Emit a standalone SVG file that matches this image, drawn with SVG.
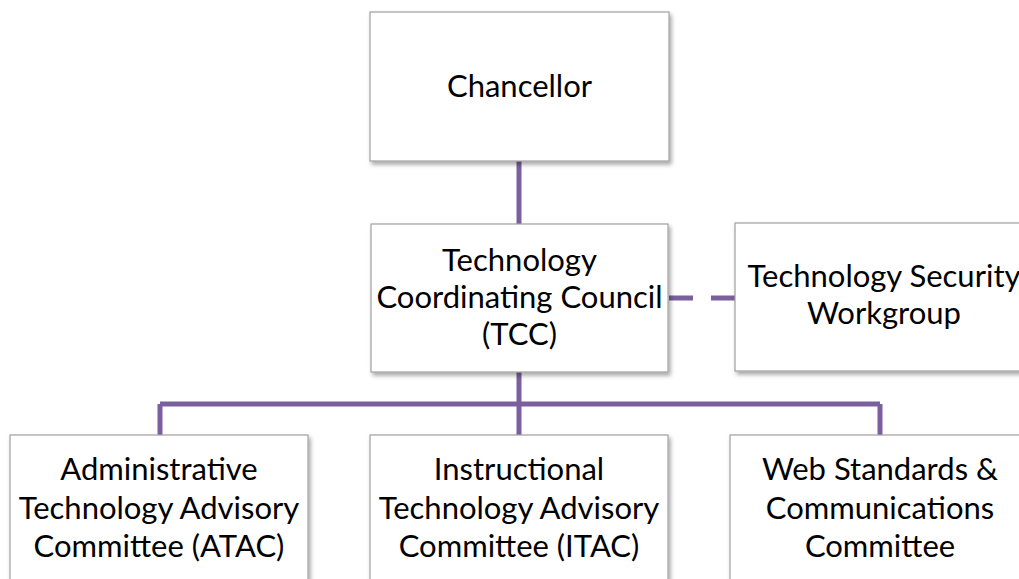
<svg xmlns="http://www.w3.org/2000/svg" width="1019" height="579" viewBox="0 0 1019 579">
<style>
.box{fill:#fff;stroke:#a0a0a0;stroke-width:1.2;filter:url(#sh)}
.t{font-family:Lato,"Liberation Sans",sans-serif;font-size:31px;fill:#000;text-anchor:middle}
.c{stroke:#7b5f9e;stroke-width:5;fill:none}
</style>
<defs>
<filter id="sh" x="-10%" y="-10%" width="120%" height="130%">
<feDropShadow dx="2" dy="3" stdDeviation="2" flood-color="#000" flood-opacity="0.35"/>
</filter>
</defs>
<rect width="1019" height="579" fill="#fff"/>
<g id="connectors">
<path class="c" d="M519 161V225"/>
<path class="c" d="M519 372V404M160 404H880M160 404V435M519 404V435M880 404V435"/>
<path class="c" d="M669 298H735" stroke-dasharray="24 18"/>
</g>
<g id="chancellor">
<rect class="box" x="370" y="12" width="299" height="149"/>
<text class="t" x="519.5" y="97">Chancellor</text>
</g>
<g id="tcc">
<rect class="box" x="371" y="224" width="297" height="148"/>
<text class="t" x="519.5" y="271">Technology</text>
<text class="t" x="519.5" y="308">Coordinating Council</text>
<text class="t" x="519.5" y="345">(TCC)</text>
</g>
<g id="security">
<rect class="box" x="735" y="223" width="300" height="148"/>
<text class="t" x="884" y="287">Technology Security</text>
<text class="t" x="884" y="324">Workgroup</text>
</g>
<g id="atac">
<rect class="box" x="10" y="435" width="298" height="160"/>
<text class="t" x="159" y="480">Administrative</text>
<text class="t" x="159" y="519">Technology Advisory</text>
<text class="t" x="159" y="557">Committee (ATAC)</text>
</g>
<g id="itac">
<rect class="box" x="370" y="435" width="298" height="160"/>
<text class="t" x="519" y="480">Instructional</text>
<text class="t" x="519" y="519">Technology Advisory</text>
<text class="t" x="519" y="557">Committee (ITAC)</text>
</g>
<g id="web">
<rect class="box" x="730" y="435" width="300" height="160"/>
<text class="t" x="880" y="480">Web Standards &amp;</text>
<text class="t" x="880" y="519">Communications</text>
<text class="t" x="880" y="557">Committee</text>
</g>
</svg>
